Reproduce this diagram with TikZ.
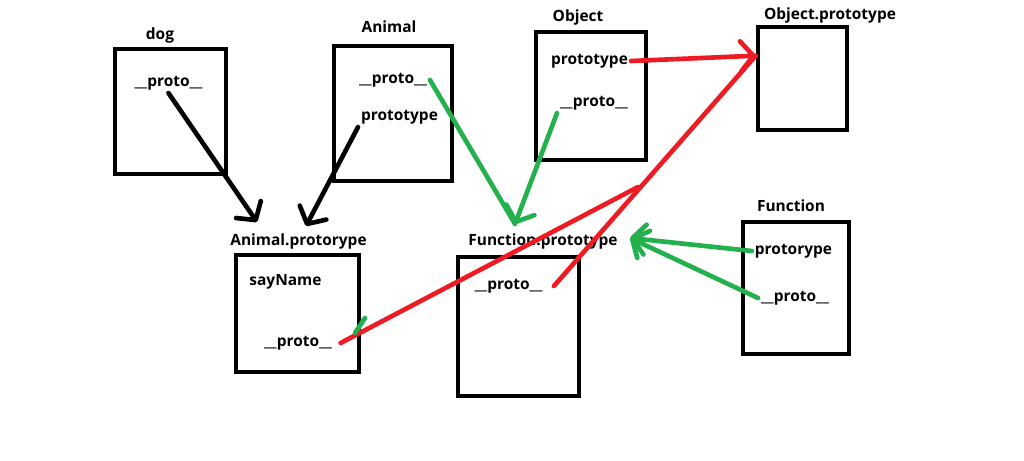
\documentclass[tikz,border=0pt]{standalone}
\usepackage{fontspec}
\setmainfont{Open Sans}
\usepackage{xcolor}
\usetikzlibrary{arrows.meta, positioning}

\definecolor{paintred}{RGB}{237,28,36}
\definecolor{paintgreen}{RGB}{34,177,76}

\begin{document}
\begin{tikzpicture}[
    x=0.025cm, y=-0.025cm,
    box/.style={rectangle, draw, line width=3.2pt},
    title/.style={font=\fontsize{11}{13}\selectfont\bfseries, inner sep=2pt},
    field/.style={font=\fontsize{11}{13}\selectfont\bfseries, inner sep=2pt},
    link/.style={line width=3.3pt, line cap=round},
    arrow/.style={link, -{Straight Barb[round, length=0.32cm, width=0.75cm]}},
]
    \fill[white] (0,0) rectangle (1024,460);
    \useasboundingbox (0,0) rectangle (1024,460);

    % boxes
    \node[box, minimum width=2.775cm, minimum height=3.125cm] (dog) at (170.5,111.5) {};
    \node[box, minimum width=2.95cm, minimum height=3.375cm] (animal) at (393,113.5) {};
    \node[box, minimum width=2.75cm, minimum height=3.2cm] (object) at (591,96) {};
    \node[box, minimum width=2.225cm, minimum height=2.575cm] (objpt) at (802.5,78.5) {};
    \node[box, minimum width=2.65cm, minimum height=3.3cm] (func) at (796,288) {};
    \node[box, minimum width=3.075cm, minimum height=2.925cm] (animpt) at (297.5,313.5) {};
    \node[box, minimum width=3.025cm, minimum height=3.475cm] (funcpt) at (518.5,326.5) {};

    % titles
    \node[title] at (160,35) {dog};
    \node[title] at (389,27) {Animal};
    \node[title] at (578,17) {Object};
    \node[title] at (830,15) {Object.prototype};
    \node[title] at (791,206) {Function};
    \node[title] at (298.5,241) {Animal.protorype};
    \node[title] at (543,241) {Function.prototype};

    % fields
    \node[field] (dogproto) at (168.5,83) {\_\_proto\_\_};
    \node[field] (animalproto) at (393,80) {\_\_proto\_\_};
    \node[field] (animalprot) at (399.5,117) {prototype};
    \node[field] (objectprot) at (589.5,61) {prototype};
    \node[field] (objectproto) at (594,103) {\_\_proto\_\_};
    \node[field] (funcprot) at (793.5,251) {protorype};
    \node[field] (funcproto) at (795,298) {\_\_proto\_\_};
    \node[field] (sayname) at (285.5,282) {sayName};
    \node[field] (animptproto) at (298,343) {\_\_proto\_\_};
    \node[field] (funcptproto) at (508.5,286) {\_\_proto\_\_};

    % free ends
    \coordinate (tipA) at (257,222);
    \coordinate (tipB) at (306,226);
    \coordinate (tipC) at (515,224);
    \coordinate (tipD) at (630,238);
    \coordinate (join) at (638,187);
    \coordinate (mark1) at (355,333);
    \coordinate (mark2) at (365,318);

    % links
    \draw[arrow] (dogproto.south) -- (tipA);
    \draw[arrow] (animalprot.south west) -- (tipB);
    \draw[link, paintgreen] (animalproto.east) -- (tipC);
    \draw[arrow, paintgreen] (objectproto.south west) -- (tipC);
    \draw[arrow, paintred] (objectprot.east) -- (objpt.154);
    \draw[link, paintred] ([xshift=6pt]funcptproto.east) -- (objpt.154);
    \draw[link, paintred] ([xshift=4pt]animptproto.east) -- (join);
    \draw[arrow, paintgreen] (funcprot.west) -- (tipD);
    \draw[arrow, paintgreen] (funcproto.west) -- (tipD);
    \draw[link, paintgreen] (mark1) -- (mark2);
\end{tikzpicture}
\end{document}
